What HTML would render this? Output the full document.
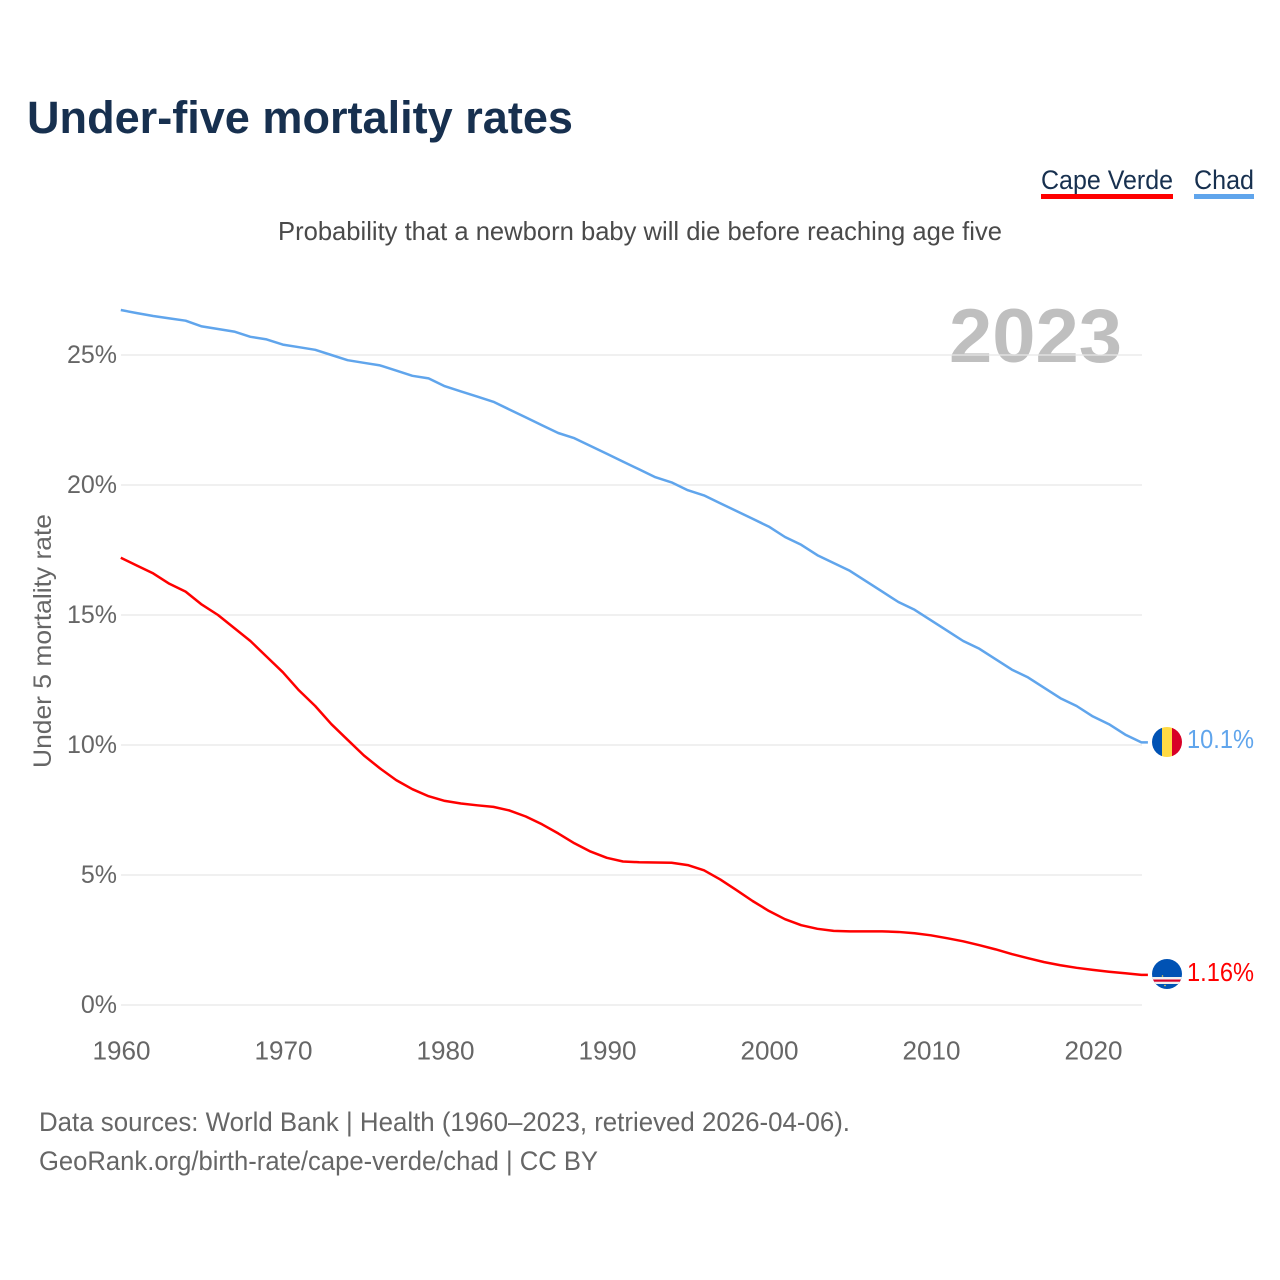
<!DOCTYPE html>
<html lang="en">
<head>
<meta charset="utf-8">
<title>Under-five mortality rates</title>
<style>
html,body{margin:0;padding:0;background:#fff;width:1280px;height:1280px;overflow:hidden}
svg{display:block}
text{font-family:"Liberation Sans",sans-serif}
</style>
</head>
<body>
<svg id="chart" width="1280" height="1280" viewBox="0 0 1280 1280" xmlns="http://www.w3.org/2000/svg">
  <defs>
    <clipPath id="clip-chad"><circle cx="1167" cy="742" r="15"/></clipPath>
    <clipPath id="clip-cv"><circle cx="1167" cy="974" r="15"/></clipPath>
  </defs>
  <rect width="1280" height="1280" fill="#fff"/>
  <text x="27" y="133" font-size="45" font-weight="700" fill="#17304f" textLength="546" lengthAdjust="spacingAndGlyphs">Under-five mortality rates</text>
  <text x="1041" y="189" font-size="27" fill="#17304f" textLength="132" lengthAdjust="spacingAndGlyphs">Cape Verde</text>
  <rect x="1041" y="194" width="132" height="5" fill="#ff0000"/>
  <text x="1194" y="189" font-size="27" fill="#17304f" textLength="60" lengthAdjust="spacingAndGlyphs">Chad</text>
  <rect x="1194" y="194" width="60" height="5" fill="#60a5ec"/>
  <text x="278" y="240" font-size="26" fill="#4a4a4a" textLength="724" lengthAdjust="spacingAndGlyphs">Probability that a newborn baby will die before reaching age five</text>
  <text x="949" y="362" font-size="76" font-weight="700" fill="#bfbfbf" textLength="173" lengthAdjust="spacingAndGlyphs">2023</text>
  <g id="grid"></g>
  <g id="yticks"></g>
  <g id="xticks"></g>
  <text transform="translate(51 768) rotate(-90)" x="0" y="0" font-size="25" fill="#666" textLength="254" lengthAdjust="spacingAndGlyphs">Under 5 mortality rate</text>
  <g id="series"></g>

  <g clip-path="url(#clip-chad)">
    <rect x="1152" y="727" width="10" height="30" fill="#0052b4"/>
    <rect x="1162" y="727" width="10" height="30" fill="#ffda44"/>
    <rect x="1172" y="727" width="10" height="30" fill="#d80027"/>
  </g>
  <g clip-path="url(#clip-cv)">
    <rect x="1152" y="959" width="30" height="30" fill="#0052b4"/>
    <rect x="1152" y="977" width="30" height="7" fill="#f0f0f0"/>
    <rect x="1152" y="979.5" width="30" height="2.2" fill="#d80027"/>
    <circle cx="1162.5" cy="976" r="0.8" fill="#ffda44"/>
    <circle cx="1165" cy="985.5" r="0.8" fill="#ffda44"/>
  </g>
  <text id="label-chad" x="1187" y="748" font-size="26" fill="#60a5ec" textLength="67" lengthAdjust="spacingAndGlyphs"></text>
  <text id="label-cv" x="1187" y="981" font-size="26" fill="#ff0000" textLength="67" lengthAdjust="spacingAndGlyphs"></text>

  <text x="39" y="1131" font-size="27" fill="#666" textLength="811" lengthAdjust="spacingAndGlyphs">Data sources: World Bank | Health (1960–2023, retrieved 2026-04-06).</text>
  <text x="39" y="1170" font-size="27" fill="#666" textLength="559" lengthAdjust="spacingAndGlyphs">GeoRank.org/birth-rate/cape-verde/chad | CC BY</text>
</svg>
<script>
const years = [1960,1961,1962,1963,1964,1965,1966,1967,1968,1969,1970,1971,1972,1973,1974,1975,1976,1977,1978,1979,1980,1981,1982,1983,1984,1985,1986,1987,1988,1989,1990,1991,1992,1993,1994,1995,1996,1997,1998,1999,2000,2001,2002,2003,2004,2005,2006,2007,2008,2009,2010,2011,2012,2013,2014,2015,2016,2017,2018,2019,2020,2021,2022,2023];
const chadValues = [26.73,26.61,26.5,26.41,26.32,26.1,26.0,25.9,25.7,25.6,25.4,25.3,25.2,25.0,24.8,24.7,24.6,24.4,24.2,24.1,23.8,23.6,23.4,23.2,22.9,22.6,22.3,22.0,21.8,21.5,21.2,20.9,20.6,20.3,20.1,19.8,19.6,19.3,19.0,18.7,18.4,18.0,17.7,17.3,17.0,16.7,16.3,15.9,15.5,15.2,14.8,14.4,14.0,13.7,13.3,12.9,12.6,12.2,11.8,11.5,11.1,10.8,10.4,10.1];
const capeVerdeValues = [17.2,16.9,16.6,16.2,15.9,15.4,15.0,14.5,14.0,13.4,12.8,12.1,11.5,10.8,10.2,9.6,9.1,8.65,8.3,8.03,7.85,7.75,7.68,7.62,7.48,7.25,6.95,6.6,6.22,5.9,5.66,5.52,5.49,5.48,5.47,5.38,5.18,4.83,4.42,4.0,3.62,3.3,3.07,2.93,2.85,2.83,2.83,2.83,2.81,2.76,2.68,2.57,2.45,2.3,2.14,1.96,1.8,1.65,1.53,1.43,1.35,1.28,1.22,1.16];
const yTickValues = [0,5,10,15,20,25];
const xTickValues = [1960,1970,1980,1990,2000,2010,2020];
const chadEndLabel = "10.1%";
const capeVerdeEndLabel = "1.16%";

const NS = "http://www.w3.org/2000/svg";
function xScale(year){ return 120.8 + (year - 1960) * 16.2; }
function yScale(v){ return 1005 - v * 26; }
function make(tag, attrs, parent){
  const el = document.createElementNS(NS, tag);
  for (const k in attrs) el.setAttribute(k, attrs[k]);
  parent.appendChild(el);
  return el;
}
const grid = document.getElementById('grid');
const yticks = document.getElementById('yticks');
const xticks = document.getElementById('xticks');
const series = document.getElementById('series');

yTickValues.forEach(function(v){
  const line = make('line', {x1:121, x2:1142, y1:yScale(v), y2:yScale(v), stroke:'#e8e8e8', 'stroke-width':1.2}, grid);
  
  
  const t = make('text', {x:117, y:yScale(v)+8, 'text-anchor':'end', 'font-size':25, fill:'#666'}, yticks);
  t.textContent = v + '%';
  
  
});
xTickValues.forEach(function(y){
  const t = make('text', {x:xScale(y)+0.7, y:1059.5, 'text-anchor':'middle', 'font-size':26, fill:'#666', textLength:58, lengthAdjust:'spacingAndGlyphs'}, xticks);
  t.textContent = y;
  
  
});
function drawSeries(values, color){
  let d = '';
  values.forEach(function(v, i){
    d += (i ? 'L' : 'M') + xScale(years[i]).toFixed(2) + ' ' + yScale(v).toFixed(2);
  });
  d += 'L' + (xScale(years[years.length-1]) + 6.5).toFixed(2) + ' ' + yScale(values[values.length-1]).toFixed(2);
  return make('path', {d:d, fill:'none', stroke:color, 'stroke-width':2.5, 'stroke-linejoin':'round'}, series);
}
const chadLine = drawSeries(chadValues, '#60a5ec');


const cvLine = drawSeries(capeVerdeValues, '#ff0000');


document.getElementById('label-chad').textContent = chadEndLabel;
document.getElementById('label-cv').textContent = capeVerdeEndLabel;
</script>
</body>
</html>
